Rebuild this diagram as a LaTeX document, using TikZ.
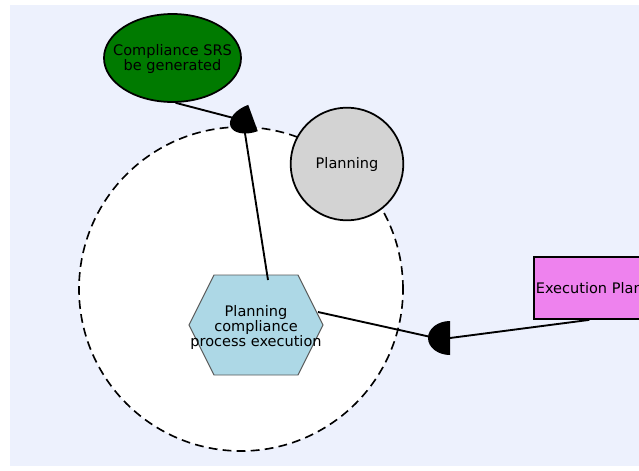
\documentclass[tikz,border=0pt]{standalone}
\usepackage{fontspec}
\setmainfont{DejaVu Sans}
\usetikzlibrary{shapes.geometric,calc}

\definecolor{canvas}{RGB}{237,241,253}
\definecolor{srsgreen}{RGB}{0,122,0}
\definecolor{plangray}{RGB}{211,211,211}
\definecolor{hexblue}{RGB}{173,216,230}
\definecolor{hexedge}{RGB}{90,90,90}
\definecolor{execviolet}{RGB}{238,130,238}

\begin{document}
\begin{tikzpicture}[x=0.03cm,y=0.03cm,
  lbl/.style={font=\fontsize{12.4}{12.8}\selectfont, align=center, text=black},
  boundary/.style={draw=black, line width=1.4pt, fill=white,
                   dash pattern=on 7.5pt off 4.5pt},
  goalnode/.style={ellipse, draw=black, line width=1.5pt, fill=srsgreen,
                   minimum width=4.11cm, minimum height=2.64cm, inner sep=0pt},
  plannode/.style={lbl, circle, draw=black, line width=1.5pt, fill=plangray,
                   minimum size=3.38cm, inner sep=0pt},
  hexshape/.style={draw=hexedge, line width=0.8pt, fill=hexblue},
  execbox/.style={lbl, rectangle, draw=black, line width=1.5pt, fill=execviolet,
                  minimum height=1.86cm, inner xsep=0.06cm},
  link/.style={draw=black, line width=1.6pt},
  halfdisk/.style={fill=black}
]
\useasboundingbox (0,0) rectangle (639,-470);
\clip (0,0) rectangle (639,-470);

% canvas
\fill[canvas] (10,-5) rectangle (639,-466);

% dashed boundary
\draw[boundary] (241,-289) circle[radius=162];

% nodes
\node[goalnode] (srs) at (172.5,-58) {};
\node[lbl] (srstext) at (172.5,-59) {Compliance SRS\\be generated};
\node[plannode] (plan) at (347,-164) {Planning};

\filldraw[hexshape, shift={(256,-325)}]
  (-67,0) -- (-42,50) -- (42,50) -- (67,0) -- (42,-50) -- (-42,-50) -- cycle;
\node[lbl] (pcpe) at (256,-327) {Planning\\compliance\\process execution};

\node[execbox, anchor=west] (exec) at (533,-288) {Execution Plan};

% connector end points
\coordinate (hexN) at (268,-280);
\coordinate (hexE) at (318,-312);
\coordinate (m1) at (253,-118);
\coordinate (m1a) at (245,-121);
\coordinate (m1b) at (244,-127);
\coordinate (m2) at (450,-338);
\coordinate (m2a) at (440,-339);

% connectors
\draw[link] (srs.-86) -- (m1a);
\draw[link] (hexN) -- (m1b);
\draw[link] (hexE) -- (m2a);
\draw[link] (exec.south) -- (m2);

% half-disk markers
\fill[halfdisk, shift={(m1)}, rotate=20]
  (0,14) arc[start angle=90, end angle=270, x radius=24, y radius=14] -- cycle;
\fill[halfdisk, shift={(m2)}]
  (0,17) arc[start angle=90, end angle=270, x radius=22, y radius=17] -- cycle;
\end{tikzpicture}
\end{document}
